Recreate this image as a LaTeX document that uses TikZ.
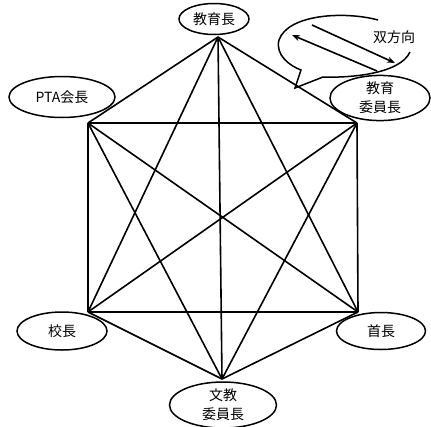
\documentclass[tikz,border=0pt]{standalone}
\usepackage{fontspec}
\newfontfamily\jpfont{Noto Sans CJK JP}
\usetikzlibrary{shapes.geometric, arrows.meta, positioning}

\begin{document}
\begin{tikzpicture}[
            x=1pt, y=-1pt,
            role/.style={ellipse, draw=black, line width=1.5pt, inner sep=0pt, align=center,
                         font=\jpfont\fontsize{14}{19}\selectfont},
            link/.style={line width=1.6pt},
            bubble/.style={line width=1.5pt},
            >={Stealth[length=8pt, width=6pt]}
        ]
        \useasboundingbox (0,0) rectangle (431,426);

        % Corners of the hexagon
        \coordinate (v1) at (218,37);
        \coordinate (v2) at (357,123);
        \coordinate (v3) at (358,312);
        \coordinate (v4) at (222,379);
        \coordinate (v5) at (88,312);
        \coordinate (v6) at (88,123);

        % Roles
        \node[role, minimum width=70pt, minimum height=31pt] (chief) at (214,19) {教育長};
        \node[role, minimum width=106pt, minimum height=41pt] (pta) at (62,97) {PTA会長};
        \node[role, minimum width=100pt, minimum height=45pt] (board) at (380,98) {教育\\委員長};
        \node[role, minimum width=90pt, minimum height=38pt] (principal) at (62,331) {校長};
        \node[role, minimum width=89pt, minimum height=37pt] (mayor) at (381,331) {首長};
        \node[role, minimum width=107pt, minimum height=46pt] (committee) at (223,405) {文教\\委員長};

        % Every role is linked to every other
        \foreach \i in {1,...,5}{
            \pgfmathtruncatemacro\k{\i+1}
            \foreach \j in {\k,...,6}
                \draw[link] (v\i) -- (v\j);
        }

        % Speech bubble
        \draw[bubble] (378,20) .. controls (345,11) and (288,14) .. (279,40)
            .. controls (275,55) and (290,66) .. (301,70)
            -- (295,88) -- (323,77)
            .. controls (350,78) and (400,74) .. (410,52);
        \node[font=\jpfont\fontsize{14}{19}\selectfont] (both) at (394,37) {双方向};
        \coordinate (a1) at (312,25);
        \coordinate (a2) at (395,63);
        \coordinate (b1) at (377,71);
        \coordinate (b2) at (292,35);
        \draw[link, ->] (a1) -- (a2);
        \draw[link, ->] (b1) -- (b2);
\end{tikzpicture}
\end{document}
